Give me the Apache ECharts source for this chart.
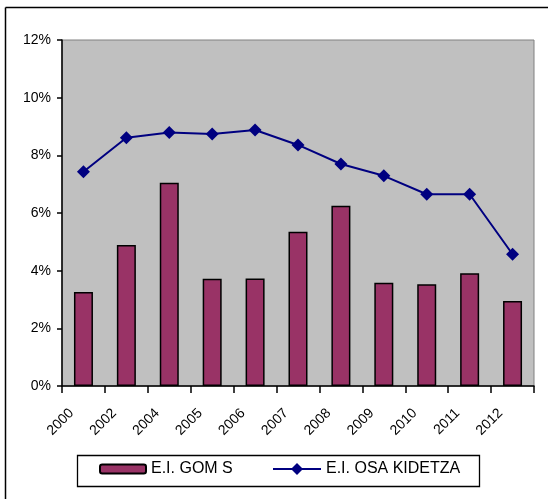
<!DOCTYPE html>
<html>
<head>
<meta charset="utf-8">
<script src="https://cdn.jsdelivr.net/npm/echarts@6/dist/echarts.min.js"></script>
<style>
html,body{margin:0;padding:0;background:#fff;}
#chart{width:548px;height:499px;}
</style>
</head>
<body>
<div id="chart"></div>
<script>
var categories = ['2000','2002','2004','2005','2006','2007','2008','2009','2010','2011','2012'];
var gomsValues = [3.26, 4.89, 7.05, 3.72, 3.73, 5.35, 6.25, 3.58, 3.53, 3.91, 2.95];
var osakidetzaValues = [7.43, 8.61, 8.79, 8.74, 8.88, 8.36, 7.70, 7.29, 6.65, 6.65, 4.57];
var seriesNames = ['E.I. GOM S', 'E.I. OSA KIDETZA'];
var yTicks = [0, 2, 4, 6, 8, 10, 12];

var font = 'Liberation Sans, Arial, sans-serif';
var legendText = {fontFamily: font, fontSize: 16, color: '#000'};
var chart = echarts.init(document.getElementById('chart'), null, {renderer: 'canvas'});
chart.setOption({
  animation: false,
  backgroundColor: '#ffffff',
  graphic: [
    {type: 'line', shape: {x1: 5.5, y1: 7.5, x2: 548, y2: 7.5}, style: {stroke: '#000', lineWidth: 1.5}},
    {type: 'line', shape: {x1: 5.5, y1: 7.5, x2: 5.5, y2: 499}, style: {stroke: '#000', lineWidth: 1.5}},
    {type: 'rect', shape: {x: 77.5, y: 455.5, width: 402, height: 31}, style: {fill: 'none', stroke: '#000', lineWidth: 1.3}}
  ],
  grid: {
    left: 62, right: 14, top: 40, bottom: 113,
    show: true, backgroundColor: '#c0c0c0', borderColor: '#808080', borderWidth: 1
  },
  legend: [
    {
      left: 99, top: 461, padding: 0,
      itemWidth: 46, itemHeight: 9,
      textStyle: legendText,
      data: [seriesNames[0]]
    },
    {
      left: 272, top: 461, padding: 0,
      itemWidth: 48, itemHeight: 15,
      textStyle: legendText,
      data: [seriesNames[1]]
    }
  ],
  xAxis: {
    type: 'category',
    data: categories,
    boundaryGap: true,
    axisLine: {lineStyle: {color: '#000', width: 1.5}},
    axisTick: {show: true, length: 7, lineStyle: {color: '#000', width: 1.5}},
    axisLabel: {
      rotate: 45, margin: 13, padding: [0, 17, 0, 0],
      fontFamily: font, fontSize: 14, color: '#000', interval: 0
    },
    splitLine: {show: false}
  },
  yAxis: {
    type: 'value',
    min: yTicks[0], max: yTicks[yTicks.length - 1], interval: 2,
    axisLine: {show: true, lineStyle: {color: '#000', width: 1.5}},
    axisTick: {show: true, length: 5, lineStyle: {color: '#000', width: 1.5}},
    axisLabel: {
      formatter: function (v) { return v + '%'; },
      fontFamily: font, fontSize: 14, color: '#000', margin: 11
    },
    splitLine: {show: false}
  },
  series: [
    {
      name: seriesNames[0],
      type: 'bar',
      data: gomsValues,
      barWidth: 19,
      itemStyle: {color: '#993366', borderColor: '#000', borderWidth: 1.5}
    },
    {
      name: seriesNames[1],
      type: 'line',
      data: osakidetzaValues,
      symbol: 'diamond',
      symbolSize: 13,
      lineStyle: {color: '#000080', width: 2},
      itemStyle: {color: '#000080'}
    }
  ]
});
</script>
</body>
</html>
